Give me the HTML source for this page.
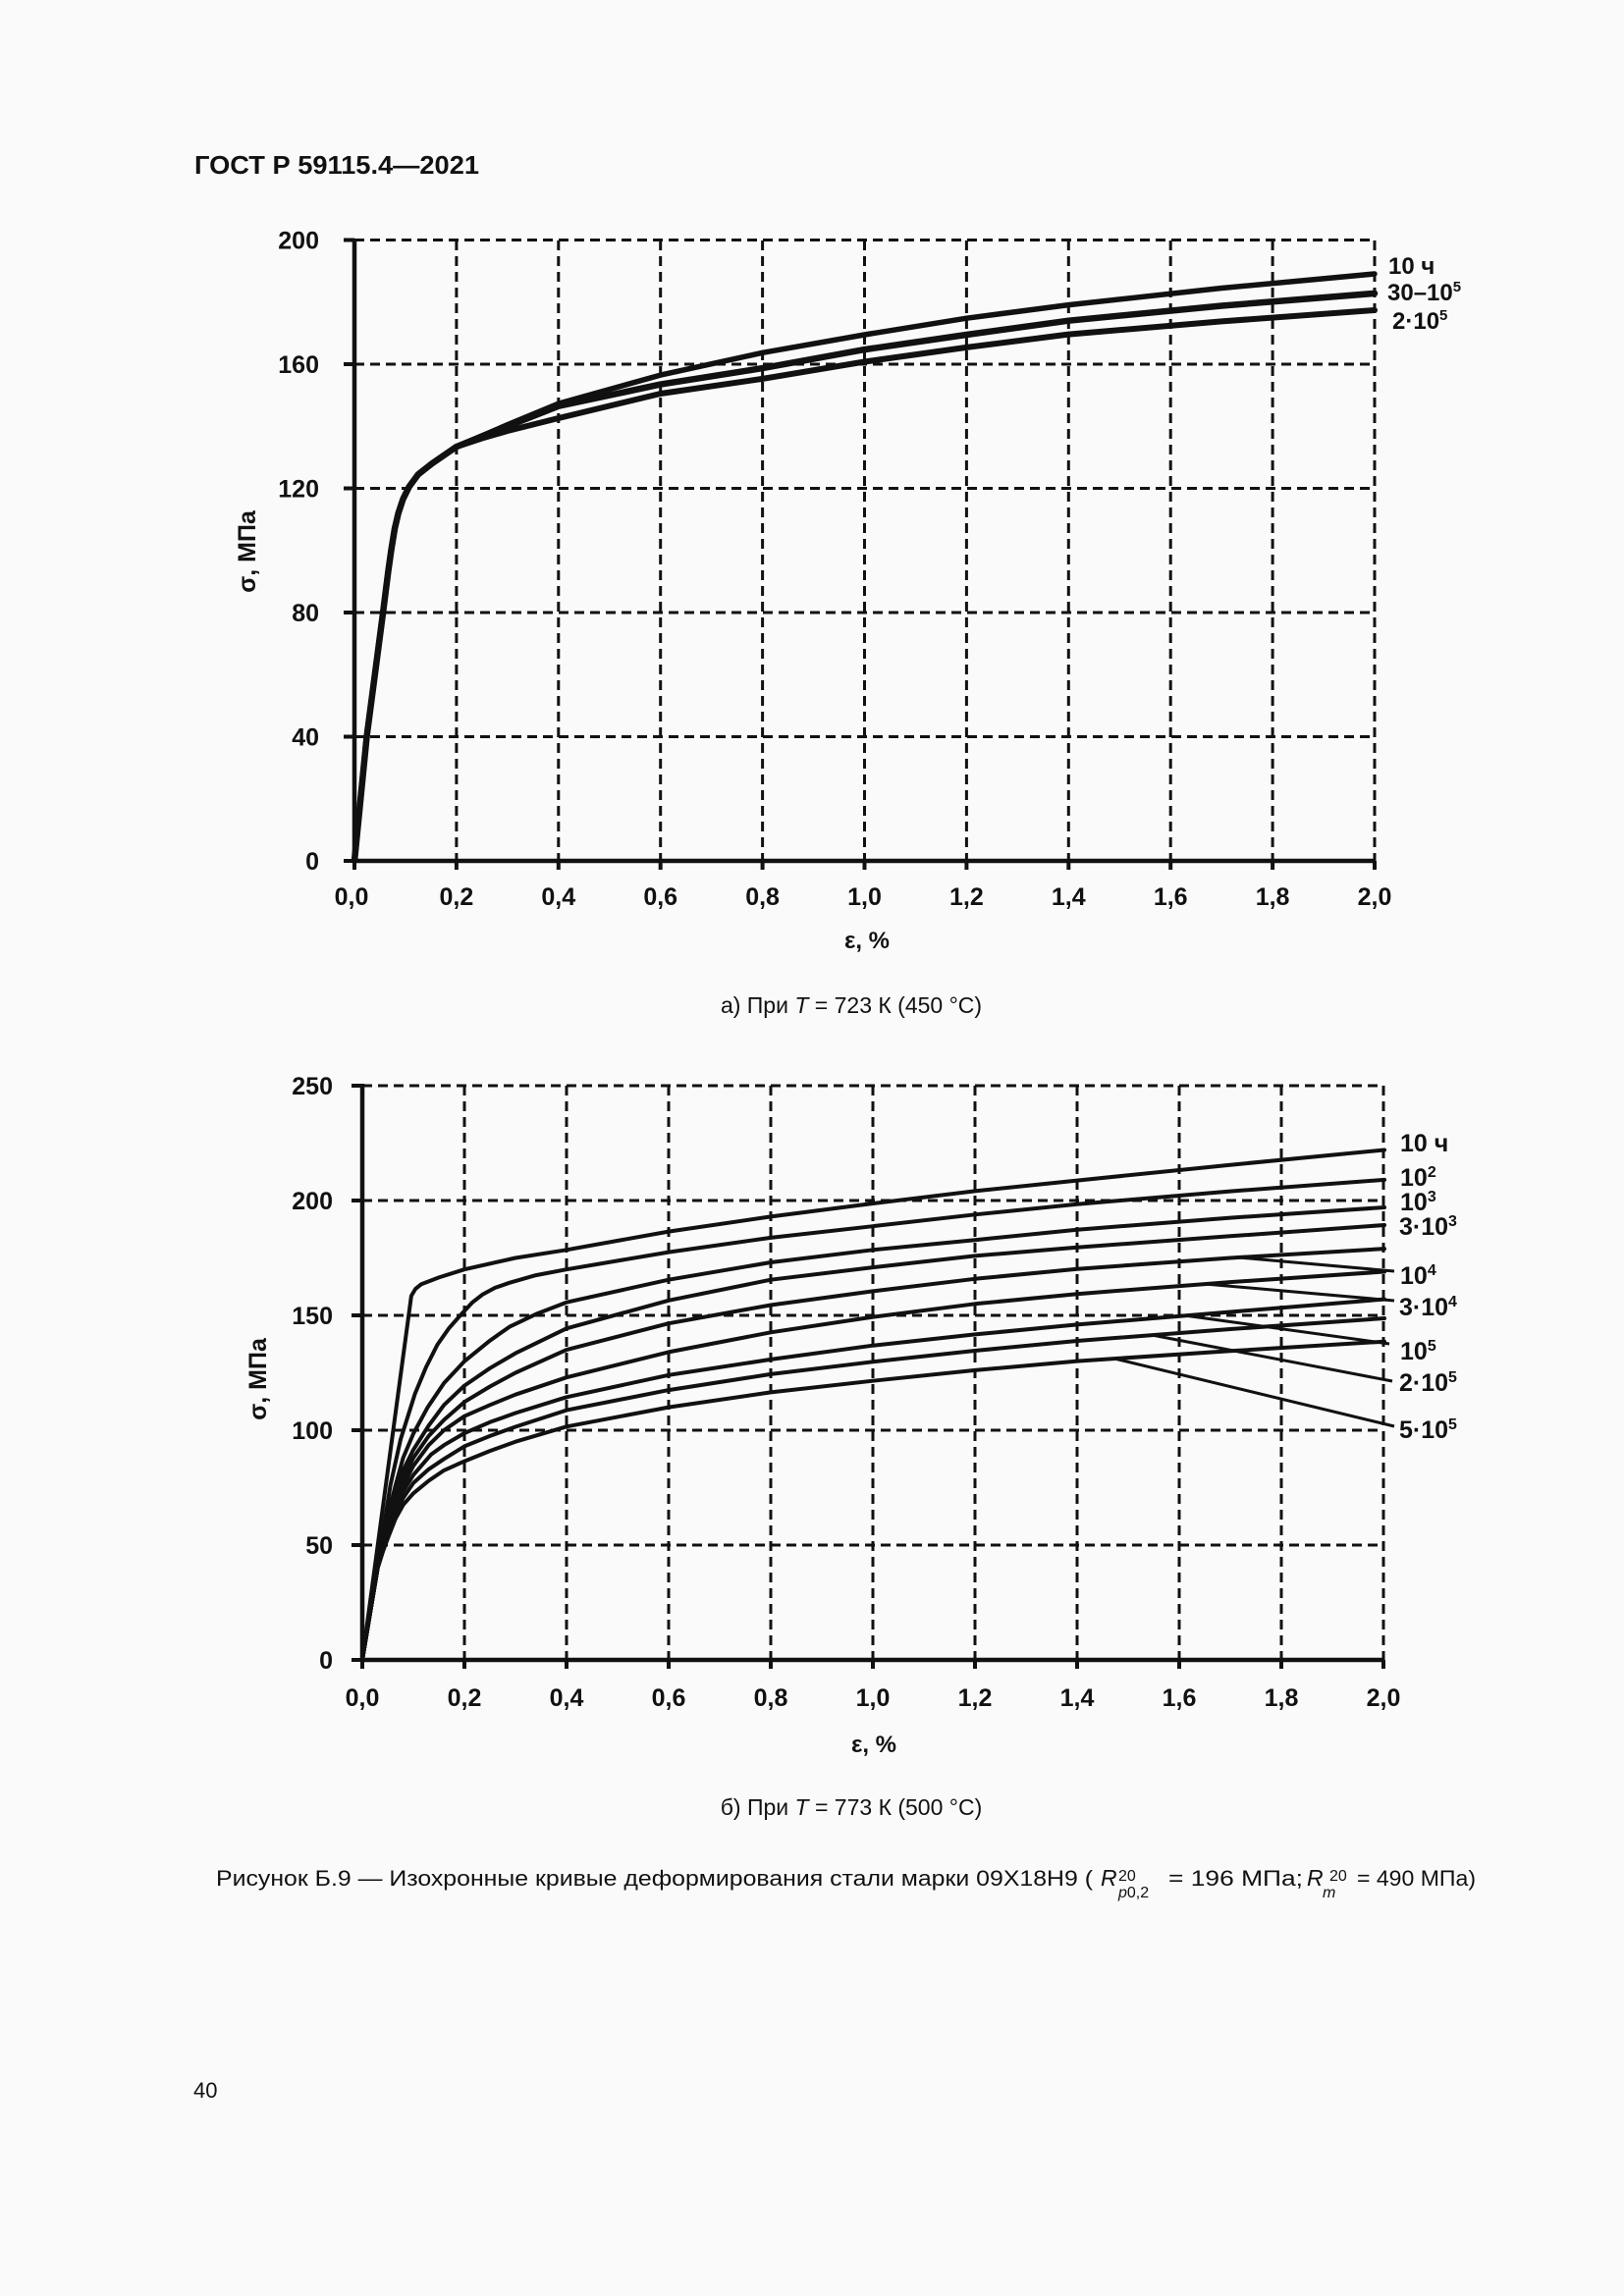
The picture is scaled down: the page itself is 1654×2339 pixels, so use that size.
<!DOCTYPE html>
<html>
<head>
<meta charset="utf-8">
<style>
html,body{margin:0;padding:0;background:#fafafa;}
svg{display:block;}
text{font-family:"Liberation Sans",Arial,sans-serif;fill:#111;}
.b{font-weight:bold;}
.grid{stroke:#111;stroke-width:3;stroke-dasharray:10 6;fill:none;}
.ax{stroke:#111;stroke-width:4.5;fill:none;}
.tk{stroke:#111;stroke-width:4;fill:none;}
.ca{stroke:#111;stroke-width:5.5;fill:none;stroke-linejoin:round;stroke-linecap:round;}
.cb{stroke:#111;stroke-width:4;fill:none;stroke-linejoin:round;stroke-linecap:round;}
.ld{stroke:#111;stroke-width:3;fill:none;}
</style>
</head>
<body>
<svg width="1654" height="2339" viewBox="0 0 1654 2339" xmlns="http://www.w3.org/2000/svg">
<rect x="0" y="0" width="1654" height="2339" fill="#fafafa"/>

<!-- Header -->
<text x="198" y="177" class="b" font-size="26" textLength="290" lengthAdjust="spacingAndGlyphs">ГОСТ Р 59115.4—2021</text>

<!-- ================= CHART A ================= -->
<g>
<line class="grid" x1="464.9" y1="245" x2="464.9" y2="877"/>
<line class="grid" x1="568.8" y1="245" x2="568.8" y2="877"/>
<line class="grid" x1="672.7" y1="245" x2="672.7" y2="877"/>
<line class="grid" x1="776.6" y1="245" x2="776.6" y2="877"/>
<line class="grid" x1="880.5" y1="245" x2="880.5" y2="877"/>
<line class="grid" x1="984.4" y1="245" x2="984.4" y2="877"/>
<line class="grid" x1="1088.3" y1="245" x2="1088.3" y2="877"/>
<line class="grid" x1="1192.2" y1="245" x2="1192.2" y2="877"/>
<line class="grid" x1="1296.1" y1="245" x2="1296.1" y2="877"/>
<line class="grid" x1="1400" y1="245" x2="1400" y2="877"/>
<line class="grid" x1="361" y1="750.5" x2="1400" y2="750.5"/>
<line class="grid" x1="361" y1="624" x2="1400" y2="624"/>
<line class="grid" x1="361" y1="497.5" x2="1400" y2="497.5"/>
<line class="grid" x1="361" y1="371" x2="1400" y2="371"/>
<line class="grid" x1="361" y1="244.5" x2="1400" y2="244.5"/>
<line class="ax" x1="361" y1="243" x2="361" y2="879"/>
<line class="ax" x1="359" y1="877" x2="1401" y2="877"/>
<line class="tk" x1="350" y1="877" x2="361" y2="877"/>
<line class="tk" x1="350" y1="750.5" x2="361" y2="750.5"/>
<line class="tk" x1="350" y1="624" x2="361" y2="624"/>
<line class="tk" x1="350" y1="497.5" x2="361" y2="497.5"/>
<line class="tk" x1="350" y1="371" x2="361" y2="371"/>
<line class="tk" x1="350" y1="244.5" x2="361" y2="244.5"/>
<line class="tk" x1="361" y1="877" x2="361" y2="886"/>
<line class="tk" x1="464.9" y1="877" x2="464.9" y2="886"/>
<line class="tk" x1="568.8" y1="877" x2="568.8" y2="886"/>
<line class="tk" x1="672.7" y1="877" x2="672.7" y2="886"/>
<line class="tk" x1="776.6" y1="877" x2="776.6" y2="886"/>
<line class="tk" x1="880.5" y1="877" x2="880.5" y2="886"/>
<line class="tk" x1="984.4" y1="877" x2="984.4" y2="886"/>
<line class="tk" x1="1088.3" y1="877" x2="1088.3" y2="886"/>
<line class="tk" x1="1192.2" y1="877" x2="1192.2" y2="886"/>
<line class="tk" x1="1296.1" y1="877" x2="1296.1" y2="886"/>
<line class="tk" x1="1400" y1="877" x2="1400" y2="886"/>
<g class="b" font-size="25" text-anchor="end">
<text x="325" y="886">0</text>
<text x="325" y="759.5">40</text>
<text x="325" y="633">80</text>
<text x="325" y="506.5">120</text>
<text x="325" y="380">160</text>
<text x="325" y="253.5">200</text>
</g>
<g class="b" font-size="25" text-anchor="middle">
<text x="358" y="922">0,0</text>
<text x="464.9" y="922">0,2</text>
<text x="568.8" y="922">0,4</text>
<text x="672.7" y="922">0,6</text>
<text x="776.6" y="922">0,8</text>
<text x="880.5" y="922">1,0</text>
<text x="984.4" y="922">1,2</text>
<text x="1088.3" y="922">1,4</text>
<text x="1192.2" y="922">1,6</text>
<text x="1296.1" y="922">1,8</text>
<text x="1400" y="922">2,0</text>
</g>
<text class="b" font-size="24" text-anchor="middle" x="883" y="966">ε, %</text>
<text class="b" font-size="25" text-anchor="middle" transform="translate(260,562) rotate(-90)">σ, МПа</text>
<polyline class="ca" points="361,877 373.5,750.5 390.1,624 395.3,582.9 398.4,560.8 402,538.6 405.7,522.8 410.4,508.6 416.6,495.9 425.9,483.3 440,472.2 464.9,455.1 490.9,443.9 516.9,432.7 568.8,411.2 672.7,382.1 776.6,359.3 880.5,341 984.4,324.2 1088.3,310.6 1244.2,293.5 1400,279"/>
<polyline class="ca" style="stroke-width:6.5" points="361,877 373.5,750.5 390.1,624 395.3,582.9 398.4,560.8 402,538.6 405.7,522.8 410.4,508.6 416.6,495.9 425.9,483.3 440,472.2 464.9,455.1 490.9,444.5 516.9,434.2 568.8,413.7 672.7,391.6 776.6,375.1 880.5,356.1 984.4,341 1088.3,326.7 1244.2,311.5 1400,298.9"/>
<polyline class="ca" style="stroke-width:6" points="361,877 373.5,750.5 390.1,624 395.3,582.9 398.4,560.8 402,538.6 405.7,522.8 410.4,508.6 416.6,495.9 425.9,483.3 440,472.2 464.9,455.1 490.9,446.5 516.9,439 568.8,426 672.7,401 776.6,385.9 880.5,368.5 984.4,353.9 1088.3,340.6 1244.2,327.4 1400,316"/>
<g class="b" font-size="24">
<text x="1414" y="279">10 ч</text>
<text x="1413" y="306">30–10<tspan font-size="15" dy="-9">5</tspan></text>
<text x="1418" y="335">2·10<tspan font-size="15" dy="-9">5</tspan></text>
</g>
</g>

<text x="867" y="1032" font-size="23" text-anchor="middle">а) При <tspan font-style="italic">T</tspan> = 723 К (450 °C)</text>

<!-- ================= CHART B ================= -->
<g>
<line class="grid" x1="473" y1="1106" x2="473" y2="1691"/>
<line class="grid" x1="577" y1="1106" x2="577" y2="1691"/>
<line class="grid" x1="681" y1="1106" x2="681" y2="1691"/>
<line class="grid" x1="785" y1="1106" x2="785" y2="1691"/>
<line class="grid" x1="889" y1="1106" x2="889" y2="1691"/>
<line class="grid" x1="993" y1="1106" x2="993" y2="1691"/>
<line class="grid" x1="1097" y1="1106" x2="1097" y2="1691"/>
<line class="grid" x1="1201" y1="1106" x2="1201" y2="1691"/>
<line class="grid" x1="1305" y1="1106" x2="1305" y2="1691"/>
<line class="grid" x1="1409" y1="1106" x2="1409" y2="1691"/>
<line class="grid" x1="369" y1="1574" x2="1409" y2="1574"/>
<line class="grid" x1="369" y1="1457" x2="1409" y2="1457"/>
<line class="grid" x1="369" y1="1340" x2="1409" y2="1340"/>
<line class="grid" x1="369" y1="1223" x2="1409" y2="1223"/>
<line class="grid" x1="369" y1="1106" x2="1409" y2="1106"/>
<line class="ax" x1="369" y1="1104" x2="369" y2="1693"/>
<line class="ax" x1="367" y1="1691" x2="1410" y2="1691"/>
<line class="tk" x1="358" y1="1691" x2="369" y2="1691"/>
<line class="tk" x1="358" y1="1574" x2="369" y2="1574"/>
<line class="tk" x1="358" y1="1457" x2="369" y2="1457"/>
<line class="tk" x1="358" y1="1340" x2="369" y2="1340"/>
<line class="tk" x1="358" y1="1223" x2="369" y2="1223"/>
<line class="tk" x1="358" y1="1106" x2="369" y2="1106"/>
<line class="tk" x1="369" y1="1691" x2="369" y2="1700"/>
<line class="tk" x1="473" y1="1691" x2="473" y2="1700"/>
<line class="tk" x1="577" y1="1691" x2="577" y2="1700"/>
<line class="tk" x1="681" y1="1691" x2="681" y2="1700"/>
<line class="tk" x1="785" y1="1691" x2="785" y2="1700"/>
<line class="tk" x1="889" y1="1691" x2="889" y2="1700"/>
<line class="tk" x1="993" y1="1691" x2="993" y2="1700"/>
<line class="tk" x1="1097" y1="1691" x2="1097" y2="1700"/>
<line class="tk" x1="1201" y1="1691" x2="1201" y2="1700"/>
<line class="tk" x1="1305" y1="1691" x2="1305" y2="1700"/>
<line class="tk" x1="1409" y1="1691" x2="1409" y2="1700"/>
<g class="b" font-size="25" text-anchor="end">
<text x="339" y="1700">0</text>
<text x="339" y="1583">50</text>
<text x="339" y="1466">100</text>
<text x="339" y="1349">150</text>
<text x="339" y="1232">200</text>
<text x="339" y="1115">250</text>
</g>
<g class="b" font-size="25" text-anchor="middle">
<text x="369" y="1738">0,0</text>
<text x="473" y="1738">0,2</text>
<text x="577" y="1738">0,4</text>
<text x="681" y="1738">0,6</text>
<text x="785" y="1738">0,8</text>
<text x="889" y="1738">1,0</text>
<text x="993" y="1738">1,2</text>
<text x="1097" y="1738">1,4</text>
<text x="1201" y="1738">1,6</text>
<text x="1305" y="1738">1,8</text>
<text x="1409" y="1738">2,0</text>
</g>
<text class="b" font-size="24" text-anchor="middle" x="890" y="1785">ε, %</text>
<text class="b" font-size="25" text-anchor="middle" transform="translate(271,1405) rotate(-90)">σ, МПа</text>

<!-- curves -->
<polyline class="cb" points="369,1691 418.9,1320.1 423.1,1313.1 428.8,1308.4 447,1301.4 473,1293.2 525,1281.5 577,1273.3 681,1254.6 785,1239.4 889,1226 993,1213.4 1097,1202.6 1253,1186.7 1410,1171.5"/>
<polyline class="cb" points="369,1691 384.6,1597.4 392.4,1545.9 397.6,1513.2 408,1466.4 422.6,1420 434,1392.6 445.4,1370 457.4,1352.9 468.8,1340 480.8,1327.1 491.2,1318.9 504.2,1311.9 518.8,1306.8 545.8,1299.1 577,1293.2 681,1275.6 785,1260.9 889,1249.2 993,1237.3 1097,1226.7 1253,1213.6 1410,1201.9"/>
<polyline class="cb" points="369,1691 384.6,1597.4 395,1543.6 402.8,1513.2 410.6,1485.1 421,1460.5 435.6,1433.6 452.2,1409 473,1386.8 499,1365.7 518.8,1351.7 545.8,1338.8 577,1326.7 681,1303.7 785,1286 889,1273.3 993,1263.2 1097,1252.7 1253,1240.6 1410,1230"/>
<polyline class="cb" points="369,1691 384.6,1597.4 395,1550.6 402.8,1521.4 410.6,1497.9 421,1476.9 436.6,1452.3 452.2,1431.3 473,1411.6 499,1393.8 525,1378.6 577,1353.3 681,1324.8 785,1303.7 889,1291.1 993,1279.4 1097,1270.7 1253,1259.3 1410,1248"/>
<polyline class="cb" points="369,1691 384.6,1597.4 395,1555.3 402.8,1528.4 410.6,1506.1 421,1485.1 436.6,1462.9 452.2,1446.5 473,1428.2 499,1412.5 525,1398.5 577,1375.1 681,1348.2 785,1329.5 889,1315.4 993,1302.8 1097,1292.7 1253,1281.5 1410,1272.1"/>
<polyline class="cb" points="369,1691 384.6,1597.4 395,1560 402.8,1534.2 410.6,1513.2 421,1493.3 436.6,1472.2 452.2,1457 473,1442.7 499,1431.3 525,1420.7 577,1403.2 681,1377.4 785,1357.3 889,1341.6 993,1328.3 1097,1318.2 1253,1306.1 1410,1295.5"/>
<polyline class="cb" points="369,1691 384.6,1597.4 395,1562.3 402.8,1537.7 410.6,1519 421,1502.6 439.2,1481.6 452.2,1472.2 473,1460 499,1448.8 525,1439.5 577,1423.3 681,1400.8 785,1384.9 889,1370.7 993,1359.4 1097,1349.4 1253,1336.5 1410,1323.6"/>
<polyline class="cb" points="369,1691 384.6,1597.4 395,1564.6 402.8,1542.4 410.6,1526 421,1510.8 436.6,1496.8 452.2,1486.3 473,1473.4 499,1462.9 525,1453.5 577,1436.6 681,1416.1 785,1399.9 889,1387.3 993,1376 1097,1366 1253,1354 1410,1343"/>
<polyline class="cb" points="369,1691 384.6,1597.4 389.8,1581 395,1567 402.8,1547.1 410.6,1533.1 421,1521.3 436.6,1508.5 452.2,1497.9 473,1488.6 499,1478.1 525,1468.7 577,1453.3 681,1433.6 785,1418.4 889,1406.7 993,1395.9 1097,1386.6 1253,1376.3 1410,1366.7"/>
<!-- leaders -->
<line class="ld" x1="1261" y1="1281" x2="1420" y2="1295"/>
<line class="ld" x1="1227" y1="1308" x2="1420" y2="1325"/>
<line class="ld" x1="1206" y1="1340" x2="1415" y2="1369"/>
<line class="ld" x1="1173" y1="1360" x2="1418" y2="1407"/>
<line class="ld" x1="1135" y1="1384" x2="1420" y2="1453"/>
<g class="b" font-size="25">
<text x="1426" y="1173">10 ч</text>
<text x="1426" y="1208">10<tspan font-size="16" dy="-9">2</tspan></text>
<text x="1426" y="1233">10<tspan font-size="16" dy="-9">3</tspan></text>
<text x="1425" y="1258">3·10<tspan font-size="16" dy="-9">3</tspan></text>
<text x="1426" y="1308">10<tspan font-size="16" dy="-9">4</tspan></text>
<text x="1425" y="1340">3·10<tspan font-size="16" dy="-9">4</tspan></text>
<text x="1426" y="1385">10<tspan font-size="16" dy="-9">5</tspan></text>
<text x="1425" y="1417">2·10<tspan font-size="16" dy="-9">5</tspan></text>
<text x="1425" y="1465">5·10<tspan font-size="16" dy="-9">5</tspan></text>
</g>
</g>

<text x="867" y="1849" font-size="23" text-anchor="middle">б) При <tspan font-style="italic">T</tspan> = 773 К (500 °C)</text>

<!-- Main caption -->
<text x="220" y="1921" font-size="22" textLength="893" lengthAdjust="spacingAndGlyphs">Рисунок Б.9 — Изохронные кривые деформирования стали марки 09Х18Н9 (</text>
<text x="1121" y="1921" font-size="23" font-style="italic">R</text>
<text x="1139" y="1916" font-size="16">20</text>
<text x="1139" y="1933" font-size="16"><tspan font-style="italic">p</tspan>0,2</text>
<text x="1190" y="1921" font-size="22" textLength="137" lengthAdjust="spacingAndGlyphs">= 196 МПа;</text>
<text x="1331" y="1921" font-size="23" font-style="italic">R</text>
<text x="1347" y="1933" font-size="16" font-style="italic">m</text>
<text x="1354" y="1916" font-size="16">20</text>
<text x="1382" y="1921" font-size="22" textLength="121" lengthAdjust="spacingAndGlyphs">= 490 МПа)</text>

<text x="197" y="2137" font-size="22">40</text>
</svg>
</body>
</html>
